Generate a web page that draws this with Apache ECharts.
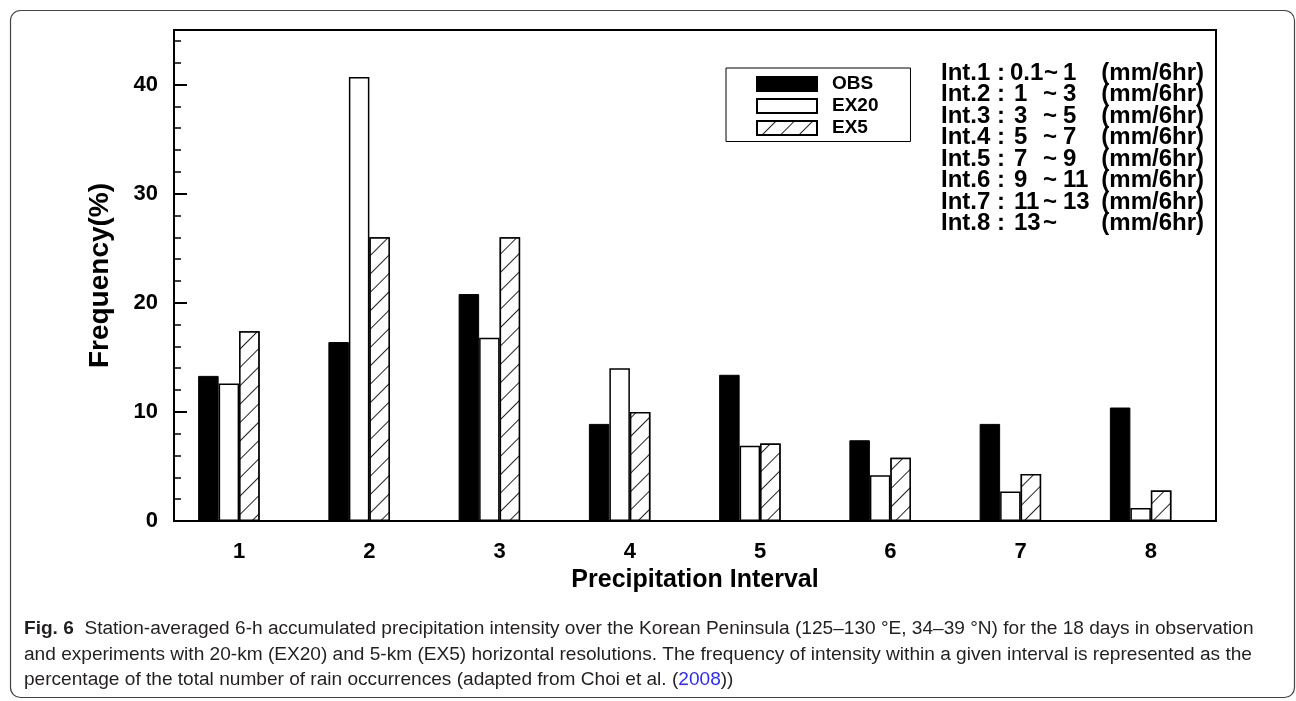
<!DOCTYPE html>
<html>
<head>
<meta charset="utf-8">
<script src="https://cdn.jsdelivr.net/npm/echarts@6/dist/echarts.min.js"></script>
<style>
  html, body { margin: 0; padding: 0; background: #fff; }
  #chart { width: 1296px; height: 701px; }
</style>
</head>
<body>
<div id="chart"></div>
<script>
// dati
const categories = ['1', '2', '3', '4', '5', '6', '7', '8'];
const obs  = [13.3, 16.4, 20.8, 8.9, 13.4, 7.4, 8.9, 10.4];
const ex20 = [12.6, 40.7, 16.8, 14.0, 6.9, 4.2, 2.7, 1.2];
const ex5  = [17.4, 26.0, 26.0, 10.0, 7.1, 5.8, 4.3, 2.8];
const yTicks = [0, 10, 20, 30, 40];

const intNames = ['Int.1 :', 'Int.2 :', 'Int.3 :', 'Int.4 :', 'Int.5 :', 'Int.6 :', 'Int.7 :', 'Int.8 :'];
const intFrom  = ['0.1', '1', '3', '5', '7', '9', '11', '13'];
const intTo    = ['1', '3', '5', '7', '9', '11', '13', ''];
const intUnit  = '(mm/6hr)';

const captionLines = [
  '{b|Fig. 6}  Station-averaged 6-h accumulated precipitation intensity over the Korean Peninsula (125\u2013130 \u00b0E, 34\u201339 \u00b0N) for the 18 days in observation',
  'and experiments with 20-km (EX20) and 5-km (EX5) horizontal resolutions. The frequency of intensity within a given interval is represented as the',
  'percentage of the total number of rain occurrences (adapted from Choi et al. ({l|2008}))'
];

const FONT = '"Liberation Sans", Arial, Helvetica, sans-serif';
const CAP_FONT = '"Liberation Sans", Arial, sans-serif';

// dimensione del font della didascalia adattata alla larghezza
const ctx = document.createElement('canvas').getContext('2d');
ctx.font = '100px ' + CAP_FONT;
const capSize = Math.min(20, 1229 / ctx.measureText(captionLines[1]).width * 100);

const chart = echarts.init(document.getElementById('chart'));

const graphics = [
  {
    type: 'rect', z: 0, silent: true,
    shape: { x: 10.5, y: 10.5, width: 1284, height: 687, r: 10 },
    style: { fill: 'none', stroke: '#444', lineWidth: 1.2 }
  }
];

intNames.forEach(function (name, i) {
  const y = 73 + i * 21.5;
  const st = { font: 'bold 24px ' + FONT, fill: '#000', verticalAlign: 'middle' };
  graphics.push({ type: 'text', x: 941, y: y, style: Object.assign({ text: name, align: 'left' }, st) });
  graphics.push({ type: 'text', x: i === 0 ? 1010 : 1014, y: y, style: Object.assign({ text: intFrom[i], align: 'left' }, st) });
  graphics.push({ type: 'text', x: i === 0 ? 1044 : 1043, y: y, style: Object.assign({ text: '~', align: 'left' }, st) });
  graphics.push({ type: 'text', x: 1063, y: y, style: Object.assign({ text: intTo[i], align: 'left' }, st) });
  graphics.push({ type: 'text', x: 1204, y: y, style: Object.assign({ text: intUnit, align: 'right' }, st) });
});

captionLines.forEach(function (line, i) {
  graphics.push({
    type: 'text', x: 24, y: 629 + i * 25.5,
    style: {
      text: line, align: 'left', verticalAlign: 'middle',
      font: capSize + 'px ' + CAP_FONT, fill: '#231f20',
      rich: {
        b: { fontWeight: 'bold', fontSize: capSize, fontFamily: CAP_FONT, fill: '#231f20' },
        l: { fontSize: capSize, fontFamily: CAP_FONT, fill: '#2b2bff' }
      }
    }
  });
});

const option = {
  animation: false,
  backgroundColor: '#fff',
  grid: {
    left: 174, right: 80, top: 30, bottom: 180,
    show: true, borderColor: '#000', borderWidth: 2, backgroundColor: 'transparent'
  },
  legend: {
    data: ['OBS', 'EX20', 'EX5'],
    orient: 'vertical',
    left: 726, top: 68,
    itemWidth: 60, itemHeight: 14, itemGap: 3,
    padding: [6.5, 32, 4, 30],
    borderColor: '#000', borderWidth: 1,
    icon: 'rect',
    selectedMode: false,
    textStyle: { fontFamily: FONT, fontSize: 19, fontWeight: 'bold', color: '#000', padding: [0, 0, 0, 10] }
  },
  xAxis: {
    type: 'category',
    data: categories,
    name: 'Precipitation Interval',
    nameLocation: 'middle',
    nameGap: 41,
    nameTextStyle: { fontFamily: FONT, fontSize: 25, fontWeight: 'bold', color: '#000' },
    axisLine: { lineStyle: { color: '#000', width: 2 } },
    axisTick: { alignWithLabel: true, inside: true, length: 10, lineStyle: { color: '#000', width: 2 } },
    axisLabel: { margin: 20, fontFamily: FONT, fontSize: 22, fontWeight: 'bold', color: '#000' }
  },
  yAxis: {
    type: 'value',
    min: yTicks[0], max: 45, interval: 10,
    name: 'Frequency(%)',
    nameLocation: 'middle',
    nameGap: 60,
    nameTextStyle: { fontFamily: FONT, fontSize: 28, fontWeight: 'bold', color: '#000' },
    axisLine: { show: true, lineStyle: { color: '#000', width: 2 } },
    axisTick: { show: true, inside: true, length: 13, lineStyle: { color: '#000', width: 2 } },
    minorTick: { show: true, splitNumber: 5, length: 7, lineStyle: { color: '#000', width: 1.5 } },
    splitLine: { show: false },
    axisLabel: { margin: 16, showMaxLabel: false, fontFamily: FONT, fontSize: 22, fontWeight: 'bold', color: '#000' }
  },
  series: [
    {
      name: 'OBS', type: 'bar', data: obs, barWidth: 20.5, barGap: '0%',
      itemStyle: { color: '#000', borderColor: '#000', borderWidth: 1 }
    },
    {
      name: 'EX20', type: 'bar', data: ex20, barWidth: 20.5, barGap: '0%',
      itemStyle: { color: '#fff', borderColor: '#000', borderWidth: 1.5 }
    },
    {
      name: 'EX5', type: 'bar', data: ex5, barWidth: 20.5, barGap: '0%',
      itemStyle: {
        color: '#fff', borderColor: '#000', borderWidth: 1.5,
        decal: {
          symbol: 'rect', symbolSize: 1, color: '#222', backgroundColor: '#fff',
          dashArrayX: [1, 0], dashArrayY: [1, 11.5], rotation: -Math.PI / 4
        }
      }
    },
    {
      // serie vuota: il gruppo risulta spostato a sinistra come nell'originale
      name: 'pad', type: 'bar', data: categories.map(function () { return '-'; }),
      barWidth: 20.5, barGap: '0%', itemStyle: { color: 'transparent' }
    }
  ],
  graphic: graphics
};

chart.setOption(option);
</script>
</body>
</html>
